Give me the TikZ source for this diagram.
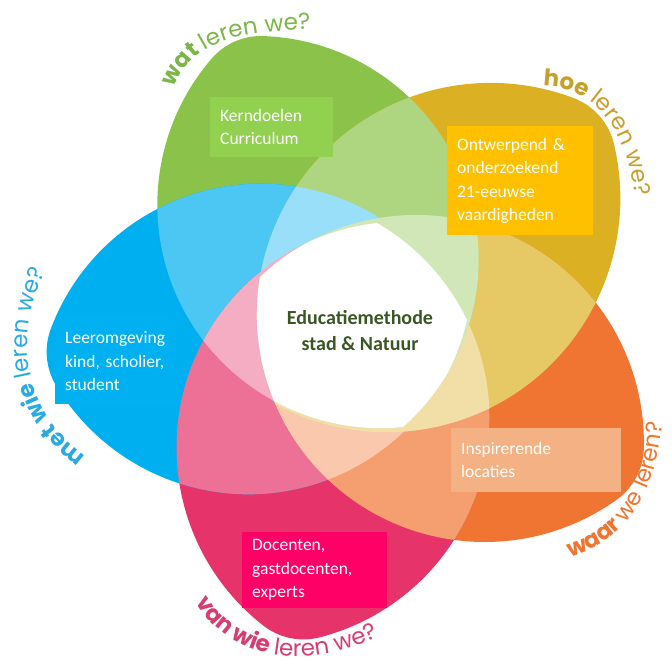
\documentclass[tikz,border=0pt]{standalone}
\usepackage{fontspec}
\setmainfont{Carlito}
\newfontfamily\arcfont{Poppins}
\usetikzlibrary{calc,
decorations.text}

% petals, clockwise from the top: green, gold, orange, pink, blue
\definecolor{petal0}{RGB}{139,195,74}
\definecolor{petal1}{RGB}{219,176,35}
\definecolor{petal2}{RGB}{240,117,50}
\definecolor{petal3}{RGB}{230,51,106}
\definecolor{petal4}{RGB}{0,175,239}
\definecolor{boxgreen}{RGB}{146,208,80}
\definecolor{boxgold}{RGB}{255,192,0}
\definecolor{boxblue}{RGB}{0,176,240}
\definecolor{boxpink}{RGB}{255,0,102}
\definecolor{boxpeach}{RGB}{244,177,131}
\definecolor{titlegreen}{RGB}{56,87,35}
\definecolor{wordgreen}{RGB}{122,183,72}
\definecolor{wordgold}{RGB}{199,160,44}
\definecolor{wordorange}{RGB}{238,118,48}
\definecolor{wordpink}{RGB}{214,62,112}
\definecolor{wordblue}{RGB}{41,170,226}

\newcommand\petalw{155}
\newcommand\petalround{65}
\newcommand\arcbold{\arcfont\bfseries\fontsize{23bp}{23bp}\selectfont}
\newcommand\arcreg{\arcfont\mdseries\fontsize{23bp}{23bp}\selectfont}
\newcommand\petalclip[1]{\expandafter\clip\csname petal#1\endcsname;}

\begin{document}
\begin{tikzpicture}[
        x=1bp, y=-1bp,
        infobox/.style={fill=#1, text=white, align=left, anchor=north west,
          inner xsep=10bp, font=\fontsize{17.5bp}{23.5bp}\selectfont},
        arclabel/.style={decorate, decoration={text along path, text color=#1}}
    ]
    \useasboundingbox (0,0) rectangle (672,663);

    % each petal: inner tip (px,py), outer tip (qx,qy); two arcs and a rounded end
    \foreach \n/\px/\py/\qx/\qy in {0/403/427/233/37, 1/273/403/604/112,
        2/260/277/641/480, 3/377/223/289/643, 4/467/320/42/358}{
        \pgfmathsetmacro\len{10*veclen((\qx-\px)/10,(\qy-\py)/10)}
        \pgfmathsetmacro\hl{\len/2}
        \pgfmathsetmacro\rad{\petalw/2+\hl/\petalw*\hl/2}
        \pgfmathsetmacro\off{\rad-\petalw}
        \pgfmathsetmacro\fl{10*sqrt((\rad-\petalround-\off)/10*(\rad-\petalround+\off)/10)}
        \pgfmathsetmacro\ang{atan2(\qy-\py,\qx-\px)}
        \pgfmathsetmacro\pz{atan2(\off,\hl)}
        \pgfmathsetmacro\pf{atan2(\off,\fl)}
        \pgfmathsetmacro\angA{\ang-180+\pz}
        \pgfmathsetmacro\angB{\ang-\pf}
        \pgfmathsetmacro\angC{\ang+\pf}
        \pgfmathsetmacro\angD{\ang+180-\pz}
        \expandafter\xdef\csname petal\n\endcsname{(\px,\py)
            arc[start angle=\angA, end angle=\angB, radius=\rad]
            arc[start angle=\angB, end angle=\angC, radius=\petalround]
            arc[start angle=\angC, end angle=\angD, radius=\rad] -- cycle}
    }

    \foreach \n in {0,...,4}{
        \begin{scope}
            \petalclip{\n}
            \fill[petal\n] (0,0) rectangle (672,663);
        \end{scope}
    }
    % two petals
    \foreach \n in {4,3,...,0}{
        \pgfmathtruncatemacro\nb{mod(\n+1,5)}
        \begin{scope}
            \petalclip{\n}\petalclip{\nb}
            \fill[petal\n!70!white] (0,0) rectangle (672,663);
        \end{scope}
    }
    % three petals
    \foreach \n in {4,3,...,0}{
        \pgfmathtruncatemacro\nb{mod(\n+1,5)}
        \pgfmathtruncatemacro\nc{mod(\n+2,5)}
        \begin{scope}
            \petalclip{\n}\petalclip{\nb}\petalclip{\nc}
            \fill[petal\n!40!white] (0,0) rectangle (672,663);
        \end{scope}
    }
    % all five
    \begin{scope}
        \petalclip{0}\petalclip{1}\petalclip{2}\petalclip{3}\petalclip{4}
        \fill[white] (0,0) rectangle (672,663);
    \end{scope}

    \node[infobox=boxgreen, text width=103bp, minimum height=60bp] (kern) at (210,97)
        {Kerndoelen\\Curriculum};
    \node[infobox=boxgold, text width=126bp, minimum height=109bp] (ontw) at (447,126)
        {Ontwerpend \&\\onderzoekend\\21-eeuwse\\vaardigheden};
    \node[infobox=boxblue, text width=100bp, minimum height=86bp] (leer) at (55,318)
        {Leeromgeving\\kind, scholier,\\student};
    \node[infobox=boxpink, text width=125bp, minimum height=76bp] (doc) at (242,532)
        {Docenten,\\gastdocenten,\\experts};
    \node[infobox=boxpeach, text width=150bp, minimum height=64bp] (insp) at (451,428)
        {Inspirerende\\locaties};
    \node[align=center, text=titlegreen, font=\bfseries\fontsize{20bp}{26bp}\selectfont]
        (title) at (360,331) {Educatiemethode\\stad \& Natuur};

    \path[arclabel=wordgreen, decoration={text={|\arcbold|wat |\arcreg|leren we?}}]
        (174,88) .. controls (192,40) and (240,26) .. (360,30);
    \path[arclabel=wordgold, decoration={text={|\arcbold|hoe |\arcreg|leren we?}}]
        (543,86) .. controls (605,86) and (640,150) .. (636,240);
    \path[arclabel=wordorange, decoration={text={|\arcbold|waar |\arcreg|we leren?}}]
        (570,557) .. controls (628,540) and (666,490) .. (664,380);
    \path[arclabel=wordpink, decoration={text={|\arcbold|van wie |\arcreg|leren we?}}]
        (196,602) .. controls (232,663) and (318,680) .. (420,614);
    \path[arclabel=wordblue, decoration={text={|\arcbold|met wie |\arcreg|leren we?}}]
        (86,456) .. controls (12,405) and (4,300) .. (86,212);
\end{tikzpicture}
\end{document}
